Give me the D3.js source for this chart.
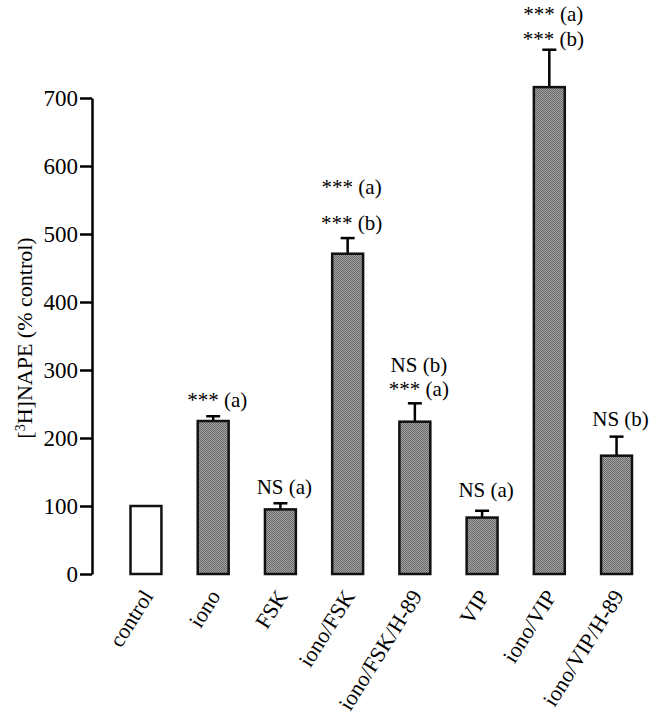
<!DOCTYPE html>
<html>
<head>
<meta charset="utf-8">
<script src="https://cdn.jsdelivr.net/npm/d3@7"></script>
<style>
	body { margin: 0; background: #fff; }
	svg text { font-family: "Liberation Serif", "Times New Roman", Times, serif !important; fill: #000; }
</style>
</head>
<body>
<svg class="display"></svg>
<script>
// data
const groups = ['control', 'iono', 'FSK', 'iono/FSK', 'iono/FSK/H-89', 'VIP', 'iono/VIP', 'iono/VIP/H-89'];
const means = [100, 225, 95, 471, 224, 83, 716, 174];
const errors = [0, 7, 9, 23, 27, 10, 55, 28];
const notes = [
	[],
	['*** (a)'],
	['NS (a)'],
	['*** (a)', '*** (b)'],
	['NS (b)', '*** (a)'],
	['NS (a)'],
	['*** (a)', '*** (b)'],
	['NS (b)']
];
const yTicks = [0, 100, 200, 300, 400, 500, 600, 700];

// size of graph
const totalWidth = 656,
	totalHeight = 720;
const serif = '"Liberation Serif", "Times New Roman", serif';

// gap from error cap to lowest note line, and spacing between note lines
const noteGap = [0, 16, 16, 15, 14, 21, 11, 18];
const noteStep = [0, 0, 0, 36, 24, 0, 25, 0];

const svg = d3
	.select('.display')
	.attr('width', totalWidth)
	.attr('height', totalHeight);

svg.append('rect').attr('width', totalWidth).attr('height', totalHeight).attr('fill', '#fff');

// checkered grey fill like the printed bars
const defs = svg.append('defs');
const pat = defs
	.append('pattern')
	.attr('id', 'dots')
	.attr('width', 2)
	.attr('height', 2)
	.attr('patternUnits', 'userSpaceOnUse');
pat.append('rect').attr('width', 2).attr('height', 2).attr('fill', '#a2a2a2');
pat.append('rect').attr('width', 1).attr('height', 1).attr('fill', '#6a6a6a');
pat.append('rect').attr('x', 1).attr('y', 1).attr('width', 1).attr('height', 1).attr('fill', '#6a6a6a');

const xScale = d3.scaleBand().domain(groups).range([130.5, 632]).paddingInner(0.54).paddingOuter(0);
const yScale = d3.scaleLinear().domain([0, 700]).range([574, 98]);

//y axis
const yAxis = d3.axisLeft(yScale).tickValues(yTicks).tickSize(12).tickSizeOuter(0).tickPadding(2);
const gy = svg.append('g').attr('transform', 'translate(92,0)').call(yAxis);
gy.attr('font-family', serif).attr('font-size', 23);
gy.select('.domain').attr('stroke-width', 2.5);
gy.selectAll('.tick line').attr('stroke-width', 2.5);
gy.selectAll('.tick text').attr('font-family', serif).attr('font-size', 23);

// y axis title
const title = svg
	.append('text')
	.attr('transform', 'translate(32,338) rotate(-90)')
	.attr('text-anchor', 'middle')
	.attr('font-family', serif)
	.attr('font-size', 22);
title.append('tspan').text('[');
title.append('tspan').attr('baseline-shift', 'super').attr('font-size', 14).text('3');
title.append('tspan').text('H]NAPE (% control)');

const data = groups.map((g, i) => ({ g: g, m: means[i], e: errors[i], notes: notes[i], i: i }));

// error bars
const err = svg.append('g').selectAll('g').data(data.filter((d) => d.e > 0)).enter().append('g');
err.append('line')
	.attr('x1', (d) => xScale(d.g) + xScale.bandwidth() / 2)
	.attr('x2', (d) => xScale(d.g) + xScale.bandwidth() / 2)
	.attr('y1', (d) => yScale(d.m))
	.attr('y2', (d) => yScale(d.m + d.e))
	.attr('stroke', '#000')
	.attr('stroke-width', 2.5);
err.append('line')
	.attr('x1', (d) => xScale(d.g) + xScale.bandwidth() / 2 - 7)
	.attr('x2', (d) => xScale(d.g) + xScale.bandwidth() / 2 + 7)
	.attr('y1', (d) => yScale(d.m + d.e))
	.attr('y2', (d) => yScale(d.m + d.e))
	.attr('stroke', '#000')
	.attr('stroke-width', 2.5);

// bars
svg.append('g')
	.selectAll('rect')
	.data(data)
	.enter()
	.append('rect')
	.attr('x', (d) => xScale(d.g))
	.attr('y', (d) => yScale(d.m))
	.attr('width', xScale.bandwidth())
	.attr('height', (d) => yScale(0) - yScale(d.m))
	.attr('fill', (d, i) => (i === 0 ? '#fff' : 'url(#dots)'))
	.attr('stroke', '#111')
	.attr('stroke-width', 2.5);

// significance notes above bars
data.forEach((d) => {
	const n = d.notes.length;
	d.notes.forEach((t, k) => {
		svg.append('text')
			.attr('x', xScale(d.g) + xScale.bandwidth() / 2 + 4)
			.attr('y', yScale(d.m + d.e) - noteGap[d.i] - (n - 1 - k) * noteStep[d.i])
			.attr('dy', '0.33em')
			.attr('text-anchor', 'middle')
			.attr('font-family', serif)
			.attr('font-size', 21)
			.text(t);
	});
});

// category labels
svg.append('g')
	.selectAll('text')
	.data(groups)
	.enter()
	.append('text')
	.attr('transform', (d) => 'translate(' + (xScale(d) + xScale.bandwidth() / 2 + 8) + ',596) rotate(-58)')
	.attr('text-anchor', 'end')
	.attr('font-family', serif)
	.attr('font-size', 22)
	.text((d) => d);
</script>
</body>
</html>
